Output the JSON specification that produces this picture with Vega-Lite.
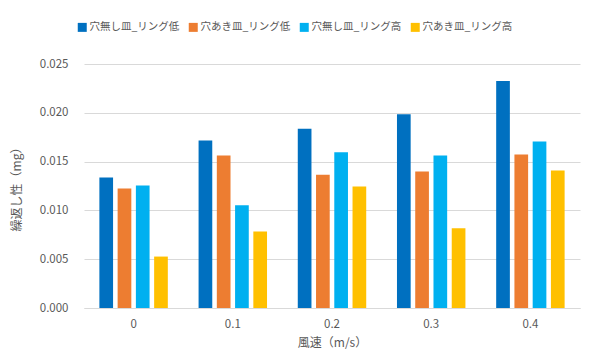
{
  "$schema": "https://vega.github.io/schema/vega-lite/v6.json",
  "autosize": {"type": "none"},
  "width": 496,
  "height": 244,
  "padding": {"left": 84, "top": 64, "right": 22, "bottom": 55},
  "background": "white",
  "config": {
    "font": "Noto Sans CJK JP",
    "view": {"stroke": null},
    "axis": {"labelColor": "#595959", "titleColor": "#595959", "labelFontSize": 11.5, "titleFontSize": 12, "titleFontWeight": "normal", "ticks": false, "domain": false, "labelFont": "Noto Sans CJK JP", "titleFont": "Noto Sans CJK JP"},
    "legend": {"labelColor": "#595959", "labelFontSize": 10.5, "labelFont": "Noto Sans CJK JP"}
  },
  "data": {
    "values": [
      {"wind": "0", "series": "穴無し皿_リング低", "v": 0.01338},
      {"wind": "0", "series": "穴あき皿_リング低", "v": 0.01225},
      {"wind": "0", "series": "穴無し皿_リング高", "v": 0.01256},
      {"wind": "0", "series": "穴あき皿_リング高", "v": 0.00527},
      {"wind": "0.1", "series": "穴無し皿_リング低", "v": 0.01717},
      {"wind": "0.1", "series": "穴あき皿_リング低", "v": 0.01563},
      {"wind": "0.1", "series": "穴無し皿_リング高", "v": 0.01054},
      {"wind": "0.1", "series": "穴あき皿_リング高", "v": 0.00784},
      {"wind": "0.2", "series": "穴無し皿_リング低", "v": 0.01836},
      {"wind": "0.2", "series": "穴あき皿_リング低", "v": 0.01364},
      {"wind": "0.2", "series": "穴無し皿_リング高", "v": 0.01597},
      {"wind": "0.2", "series": "穴あき皿_リング高", "v": 0.01245},
      {"wind": "0.3", "series": "穴無し皿_リング低", "v": 0.01984},
      {"wind": "0.3", "series": "穴あき皿_リング低", "v": 0.01399},
      {"wind": "0.3", "series": "穴無し皿_リング高", "v": 0.01563},
      {"wind": "0.3", "series": "穴あき皿_リング高", "v": 0.00818},
      {"wind": "0.4", "series": "穴無し皿_リング低", "v": 0.02326},
      {"wind": "0.4", "series": "穴あき皿_リング低", "v": 0.01574},
      {"wind": "0.4", "series": "穴無し皿_リング高", "v": 0.01707},
      {"wind": "0.4", "series": "穴あき皿_リング高", "v": 0.0141}
    ]
  },
  "mark": {"type": "bar"},
  "encoding": {
    "x": {
      "field": "wind", "type": "nominal", "title": "風速（m/s）",
      "scale": {"paddingInner": 0.31, "paddingOuter": 0.155},
      "axis": {"labelAngle": 0, "labelPadding": 10, "titlePadding": 8, "domain": true, "domainColor": "#D9D9D9"}
    },
    "xOffset": {
      "field": "series", "type": "nominal",
      "sort": ["穴無し皿_リング低", "穴あき皿_リング低", "穴無し皿_リング高", "穴あき皿_リング高"],
      "scale": {"paddingInner": 0.25}
    },
    "y": {
      "field": "v", "type": "quantitative", "title": "繰返し性（mg）",
      "scale": {"domain": [0, 0.025], "nice": false},
      "axis": {"values": [0, 0.005, 0.01, 0.015, 0.02, 0.025], "format": ".3f", "gridColor": "#D9D9D9", "labelPadding": 16, "titlePadding": 16}
    },
    "color": {
      "field": "series", "type": "nominal",
      "sort": ["穴無し皿_リング低", "穴あき皿_リング低", "穴無し皿_リング高", "穴あき皿_リング高"],
      "scale": {"range": ["#0070C0", "#ED7D31", "#00B0F0", "#FFC000"]},
      "legend": {"title": null, "orient": "none", "direction": "horizontal", "legendX": -7, "legendY": -42, "symbolType": "square", "symbolSize": 81, "symbolStrokeWidth": 0, "columnPadding": 8, "labelOffset": 2}
    }
  }
}
